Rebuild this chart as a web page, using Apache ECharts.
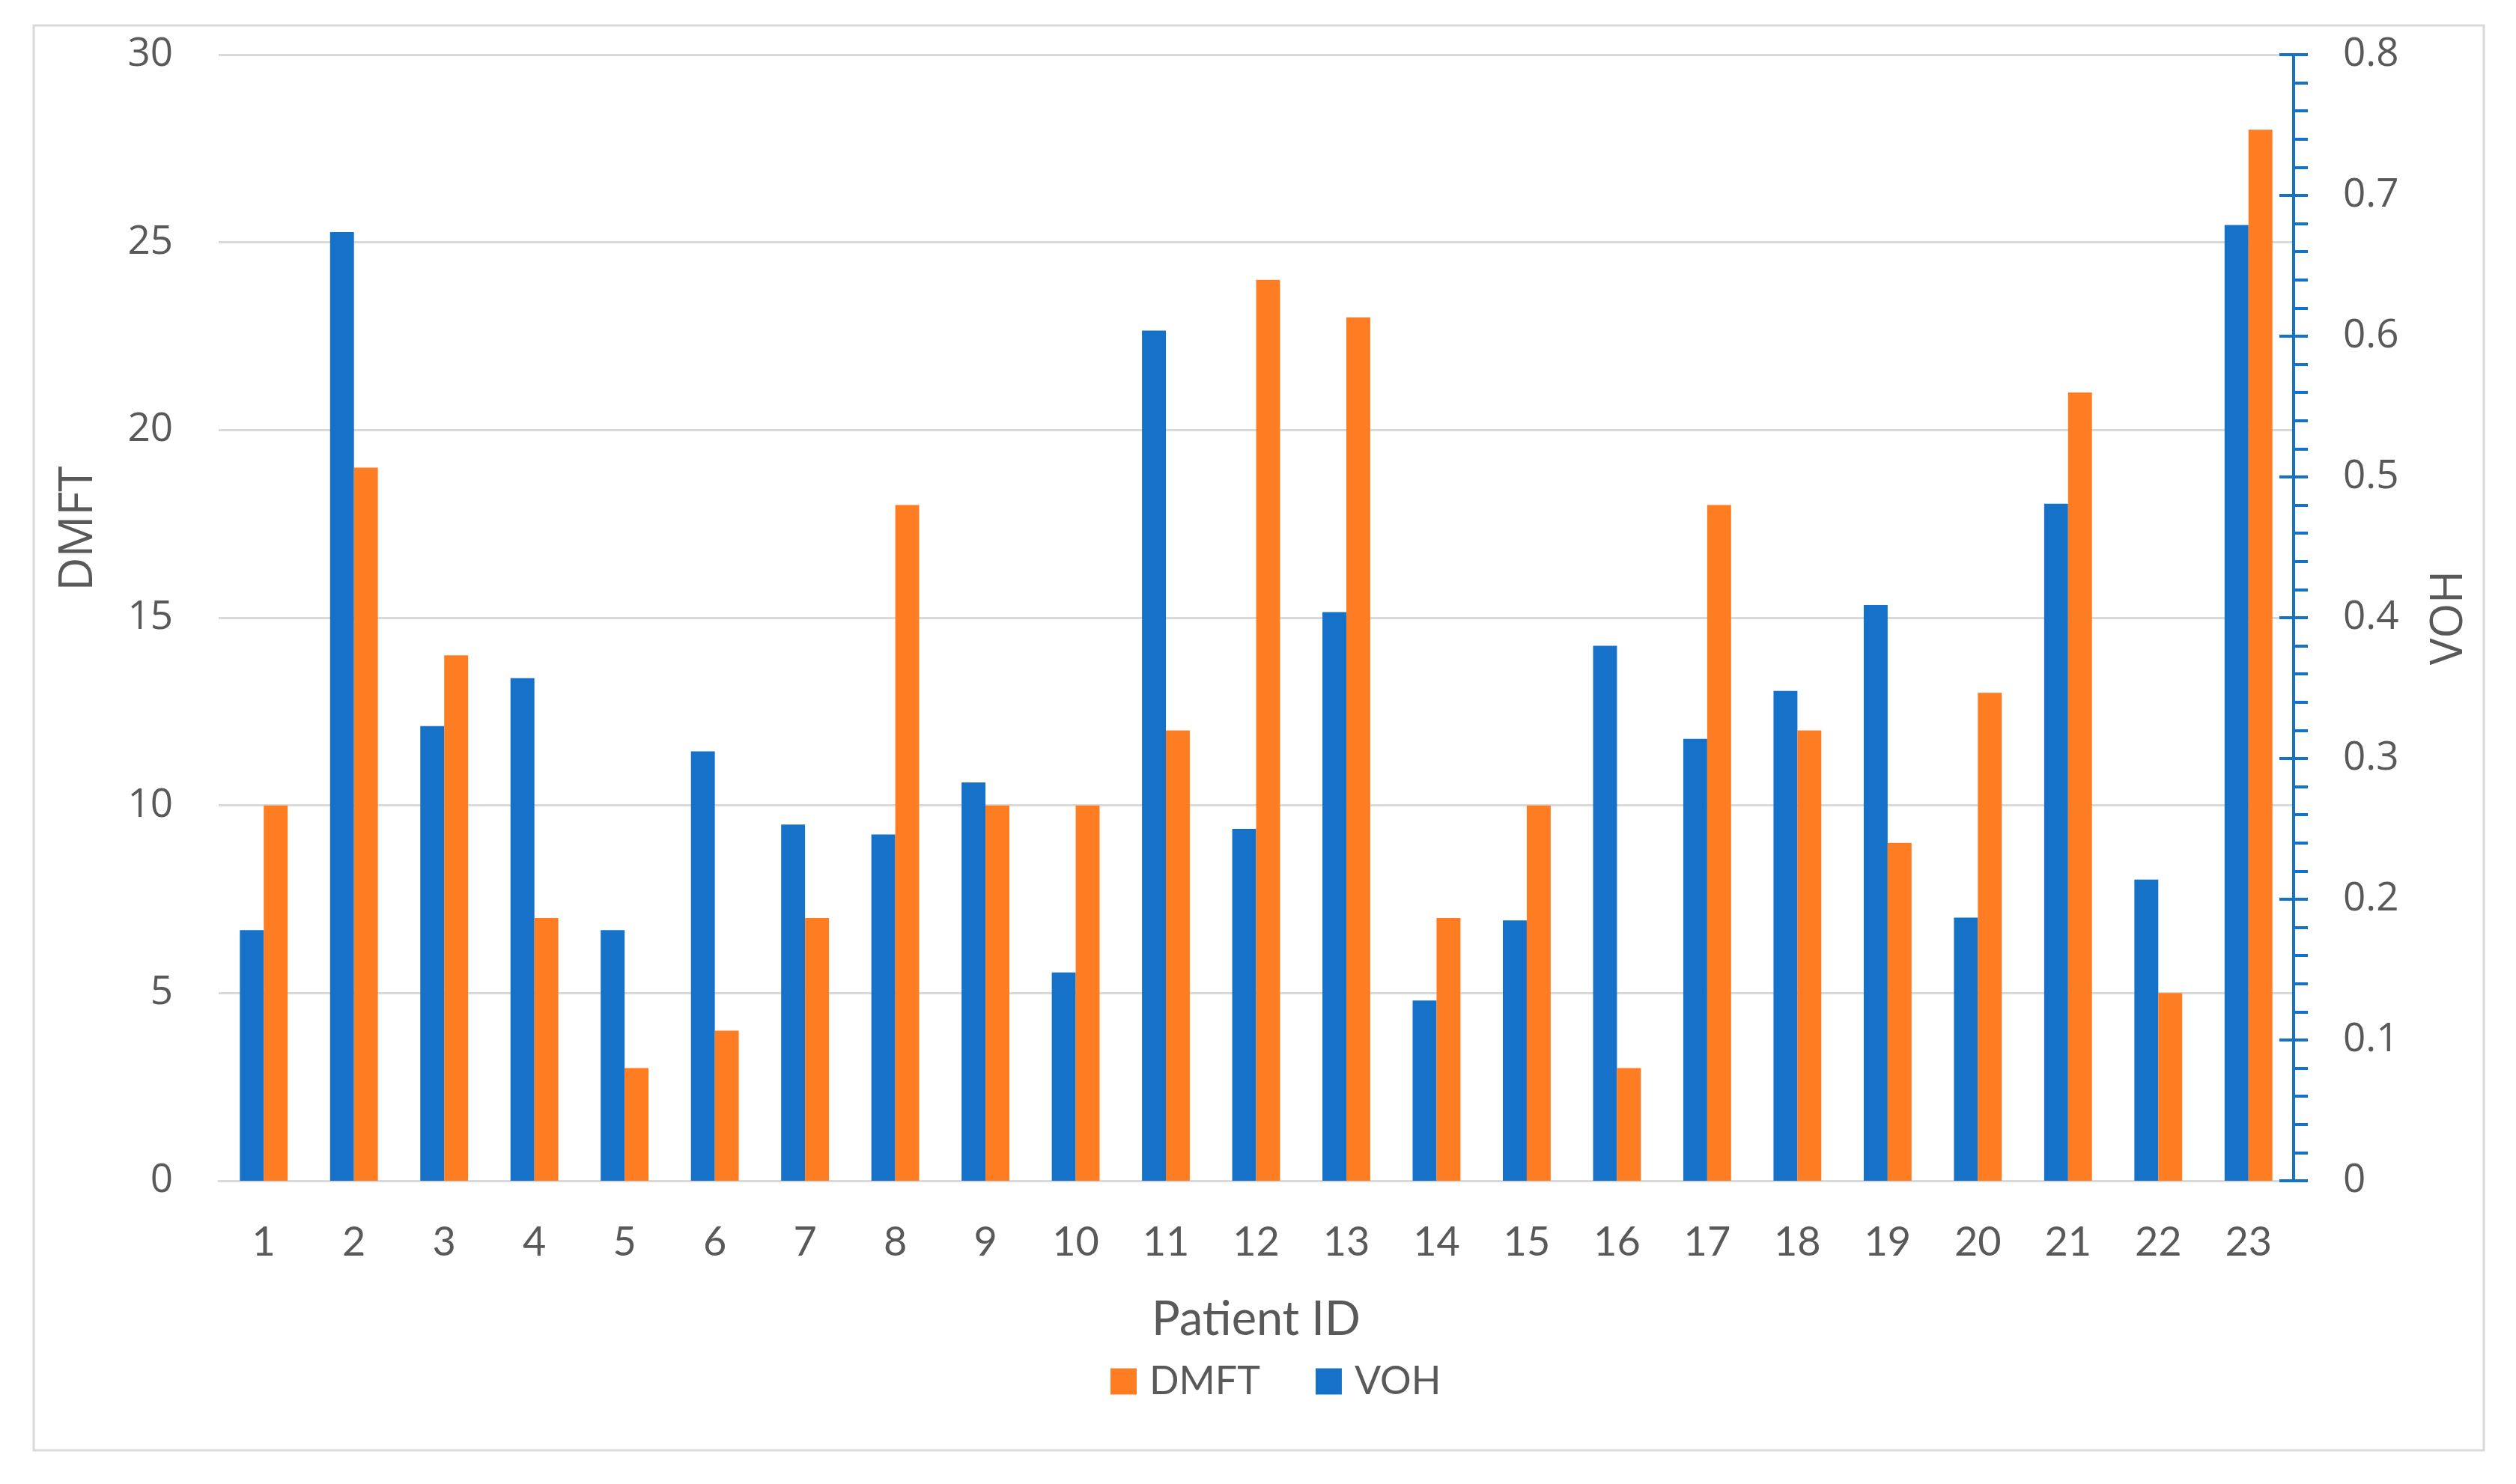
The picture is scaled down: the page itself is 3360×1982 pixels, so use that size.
<!DOCTYPE html>
<html>
<head>
<meta charset="utf-8">
<script src="https://cdn.jsdelivr.net/npm/echarts@6/dist/echarts.min.js"></script>
<style>
html,body{margin:0;padding:0;background:#fff;}
#chart{width:3360px;height:1982px;}
</style>
</head>
<body>
<div id="chart"></div>
<script>
const patientIds = ['1','2','3','4','5','6','7','8','9','10','11','12','13','14','15','16','17','18','19','20','21','22','23'];
const dmft = [10,19,14,7,3,4,7,18,10,10,12,24,23,7,10,3,18,12,9,13,21,5,28];
const voh = [0.178,0.674,0.323,0.357,0.178,0.305,0.253,0.246,0.283,0.148,0.604,0.250,0.404,0.128,0.185,0.380,0.314,0.348,0.409,0.187,0.481,0.214,0.679];
const leftTicks = {min:0, max:30, interval:5};
const rightTicks = {min:0, max:0.8, interval:0.1};

const BLUE = '#1672C8';
const ORANGE = '#FF7D22';
const GRAY_TEXT = '#595959';
const GRID_LINE = '#D9D9D9';

const chart = echarts.init(document.getElementById('chart'));
chart.setOption({
  backgroundColor:'#ffffff',
  animation:false,
  graphic:[{
    type:'rect', shape:{x:45,y:34,width:3272,height:1903},
    style:{fill:'none',stroke:'#D9D9D9',lineWidth:3}, silent:true
  }],
  grid:{left:292,right:297,top:73,bottom:405,containLabel:false},
  legend:{
    data:['DMFT','VOH'],
    left:1478, top:1814,
    itemWidth:35, itemHeight:35, itemGap:74,
    icon:'rect',
    textStyle:{fontFamily:'Lato',fontSize:52,color:GRAY_TEXT,padding:[0,0,0,12]}
  },
  xAxis:{
    type:'category',
    data:patientIds,
    name:'Patient ID',
    nameLocation:'middle',
    nameGap:154,
    nameTextStyle:{fontFamily:'Lato',fontSize:63,color:GRAY_TEXT},
    axisLine:{show:true,lineStyle:{color:GRID_LINE,width:3}},
    axisTick:{show:false},
    axisLabel:{fontFamily:'Lato',fontSize:54,color:GRAY_TEXT,margin:56}
  },
  yAxis:[
    {
      type:'value', position:'left',
      min:leftTicks.min, max:leftTicks.max, interval:leftTicks.interval,
      name:'DMFT', nameLocation:'middle', nameGap:156,
      nameTextStyle:{fontFamily:'Open Sans',fontSize:62,color:GRAY_TEXT,padding:[0,0,0,238]},
      axisLine:{show:false}, axisTick:{show:false},
      axisLabel:{fontFamily:'Open Sans',fontSize:53,color:GRAY_TEXT,margin:61},
      splitLine:{show:true,lineStyle:{color:GRID_LINE,width:3}}
    },
    {
      type:'value', position:'right',
      min:rightTicks.min, max:rightTicks.max, interval:rightTicks.interval,
      name:'VOH', nameLocation:'middle', nameGap:178,
      nameTextStyle:{fontFamily:'Open Sans',fontSize:60,color:GRAY_TEXT},
      axisLine:{show:true,lineStyle:{color:BLUE,width:4}},
      axisTick:{show:true,length:19,inside:false,lineStyle:{color:BLUE,width:4}},
      minorTick:{show:true,splitNumber:5,length:19,lineStyle:{color:BLUE,width:4}},
      axisLabel:{fontFamily:'Open Sans',fontSize:53,color:GRAY_TEXT,margin:66,
        formatter:function(v){return v===0?'0':(+v.toFixed(1)).toString();}},
      splitLine:{show:false}
    },
    {
      type:'value', position:'right',
      min:rightTicks.min, max:rightTicks.max, interval:rightTicks.interval,
      axisLine:{show:false},
      axisTick:{show:true,length:19,inside:true,lineStyle:{color:BLUE,width:4}},
      axisLabel:{show:false},
      splitLine:{show:false}
    }
  ],
  series:[
    {
      name:'VOH', type:'bar', yAxisIndex:1, data:voh,
      itemStyle:{color:BLUE},
      barGap:'0%', barCategoryGap:'47%'
    },
    {
      name:'DMFT', type:'bar', yAxisIndex:0, data:dmft,
      itemStyle:{color:ORANGE},
      barGap:'0%', barCategoryGap:'47%'
    }
  ]
});
</script>
</body>
</html>
